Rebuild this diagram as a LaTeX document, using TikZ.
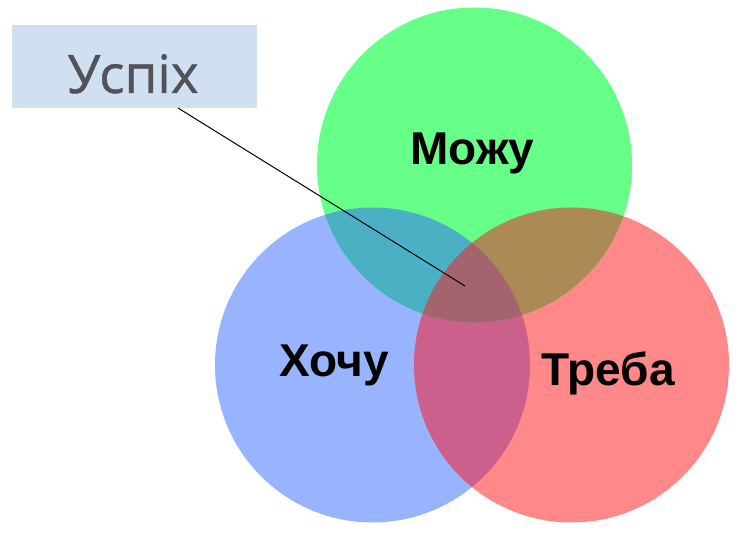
\documentclass[tikz,border=0pt]{standalone}
\usepackage{fontspec}
\setmainfont{Liberation Sans}
\newfontfamily\boxfont[FakeBold=0.8]{Open Sans}
\definecolor{cgreen}{RGB}{102,255,136}
\definecolor{cblue}{RGB}{153,180,255}
\definecolor{cred}{RGB}{255,136,136}
\definecolor{cgb}{RGB}{76,176,196}
\definecolor{cgr}{RGB}{171,138,85}
\definecolor{cbr}{RGB}{204,96,140}
\definecolor{cgbr}{RGB}{163,99,111}
\definecolor{boxblue}{RGB}{207,224,241}
\definecolor{boxtext}{RGB}{82,82,88}
\tikzset{
  setlabel/.style={anchor=base, inner sep=0pt, font=\fontsize{46}{46}\selectfont\bfseries, text=black},
  calloutbox/.style={fill=boxblue, draw=none, inner sep=0pt, anchor=north west},
  callouttext/.style={anchor=base, inner sep=0pt, font=\boxfont\fontsize{53}{53}\selectfont, text=boxtext},
  pointer/.style={draw=black, line width=1pt}
}
\begin{document}
\begin{tikzpicture}[x=1pt,y=-1pt]
\useasboundingbox (0,0) rectangle (743,534);
\def\R{157.5pt}
\coordinate (cg) at (474.5,165);
\coordinate (cb) at (372.5,365);
\coordinate (cr) at (571.5,365);
\fill[cblue] (cb) circle[radius=\R];
\fill[cred] (cr) circle[radius=\R];
\fill[cgreen] (cg) circle[radius=\R];
\begin{scope}\clip (cb) circle[radius=\R]; \fill[cbr] (cr) circle[radius=\R]; \end{scope}
\begin{scope}\clip (cg) circle[radius=\R]; \fill[cgb] (cb) circle[radius=\R]; \end{scope}
\begin{scope}\clip (cg) circle[radius=\R]; \fill[cgr] (cr) circle[radius=\R]; \end{scope}
\begin{scope}\clip (cg) circle[radius=\R]; \clip (cb) circle[radius=\R]; \fill[cgbr] (cr) circle[radius=\R]; \end{scope}
\node[setlabel] (mozhu) at (472.5,165) {Можу};
\node[setlabel] (khochu) at (334.5,376) {Хочу};
\node[setlabel] (treba) at (608,385) {Треба};
\node[calloutbox, minimum width=245pt, minimum height=83pt] (box) at (12,25) {};
\node[callouttext] (uspikh) at (133,93) {Успіх};
\coordinate (start) at (178,108);
\coordinate (target) at (465,286);
\draw[pointer] (start) -- (target);
\end{tikzpicture}
\end{document}
